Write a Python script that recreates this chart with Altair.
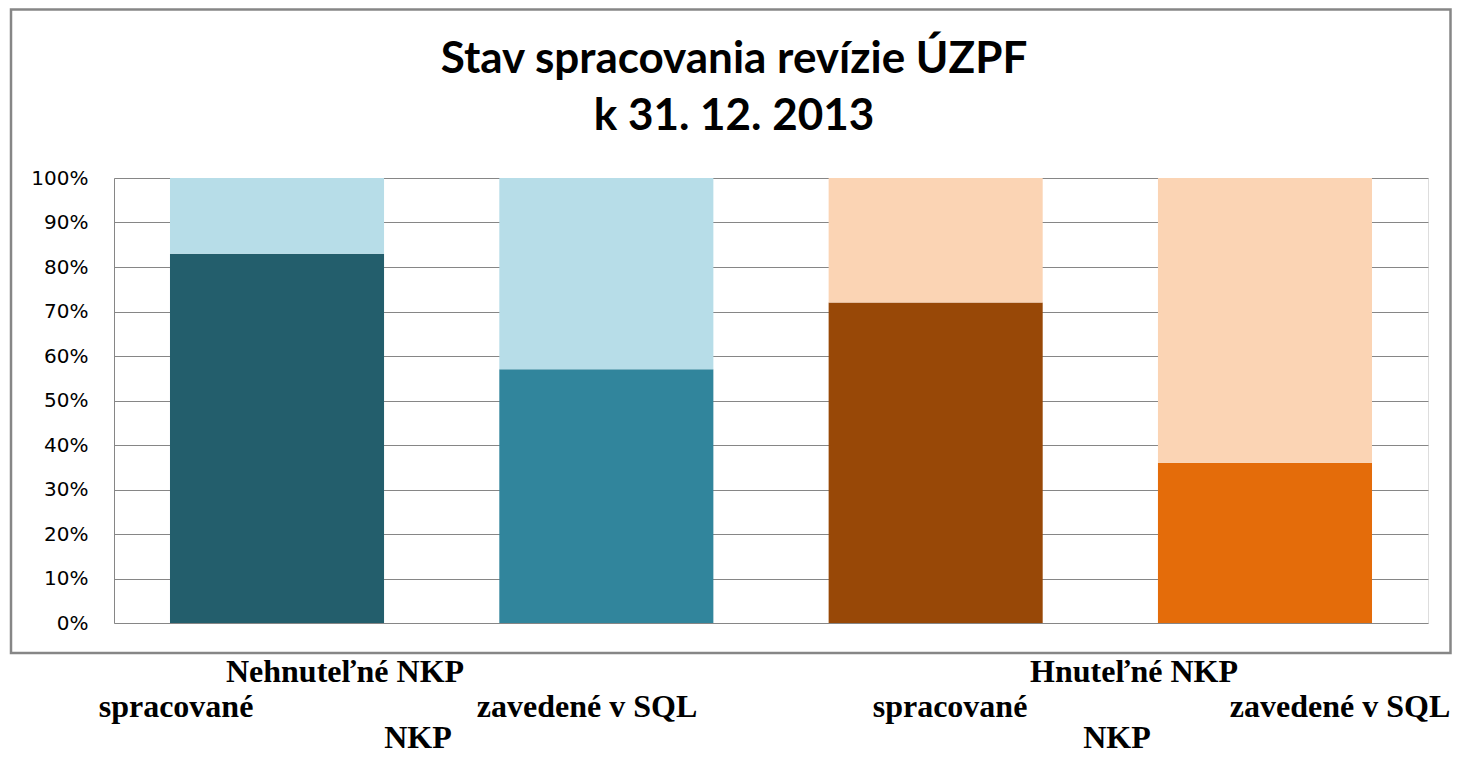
import altair as alt
import pandas as pd

# ---- data ----
categories = ["Nehnuteľné NKP spracované", "Nehnuteľné NKP zavedené v SQL",
              "Hnuteľné NKP spracované", "Hnuteľné NKP zavedené v SQL"]
done_share = [0.83, 0.57, 0.72, 0.36]
done_colors = ["#235E6C", "#31859C", "#984807", "#E46C0A"]
rest_colors = ["#B7DDE8", "#B7DDE8", "#FBD4B4", "#FBD4B4"]
title_lines = ["Stav spracovania revízie ÚZPF", "k 31. 12. 2013"]
y_ticks = [0, 0.1, 0.2, 0.3, 0.4, 0.5, 0.6, 0.7, 0.8, 0.9, 1.0]

rows = []
keys, colors = [], []
for i, (c, v) in enumerate(zip(categories, done_share)):
    rows.append({"cat": c, "key": f"{i}_done", "val": v, "ord": 0})
    rows.append({"cat": c, "key": f"{i}_rest", "val": round(1 - v, 4), "ord": 1})
    keys += [f"{i}_done", f"{i}_rest"]
    colors += [done_colors[i], rest_colors[i]]
df = pd.DataFrame(rows)

W, H = 1314, 445

xscale = alt.Scale(domain=categories, paddingInner=0.35, paddingOuter=0.17)

bars = alt.Chart(df).mark_bar(stroke=None).encode(
    x=alt.X("cat:N", scale=xscale, axis=None, sort=categories),
    y=alt.Y("val:Q", stack="zero",
            scale=alt.Scale(domain=[0, 1], nice=False),
            axis=alt.Axis(values=y_ticks, format=".0%", title=None, ticks=False,
                          labelPadding=26, labelFont="DejaVu Sans", labelFontSize=20,
                          labelColor="#000000", grid=True, gridColor="#868686",
                          gridWidth=1, domain=True, domainColor="#868686",
                          domainWidth=1)),
    color=alt.Color("key:N", scale=alt.Scale(domain=keys, range=colors), legend=None),
    order=alt.Order("ord:Q"),
)

one = pd.DataFrame({"k": [0]})

frame = alt.Chart(one).mark_rect(fill=None, stroke="#868686", strokeWidth=2.5).encode(
    x=alt.value(-103), x2=alt.value(1336.5), y=alt.value(-168.5), y2=alt.value(475)
)

def title_line(txt, yy):
    return alt.Chart(one).mark_text(
        font="Lato", fontSize=44, fontWeight="bold", color="#000000",
        align="center", baseline="alphabetic"
    ).encode(x=alt.value(620), y=alt.value(yy), text=alt.value(txt))

t1 = title_line(title_lines[0], 73 - 178)
t2 = title_line(title_lines[1], 130 - 178)

# category labels, wrapped as in the original
label_specs = [
    ("Nehnuteľné NKP", 231, 504),
    ("spracované", 62, 539),
    ("zavedené v SQL", 473, 539),
    ("NKP", 304, 570),
    ("Hnuteľné NKP", 1020, 504),
    ("spracované", 836, 539),
    ("zavedené v SQL", 1226, 539),
    ("NKP", 1003, 570),
]
labels = [
    alt.Chart(one).mark_text(
        font="Liberation Serif", fontSize=32, fontWeight="bold", color="#000000",
        align="center", baseline="alphabetic"
    ).encode(x=alt.value(px), y=alt.value(py), text=alt.value(t))
    for t, px, py in label_specs
]

chart = alt.layer(bars, frame, t1, t2, *labels).properties(
    width=W, height=H,
    padding={"left": 106, "top": 170, "right": 24, "bottom": 131},
    autosize=alt.AutoSizeParams(type="none"),
).configure_view(stroke=None).configure(background="#ffffff")

chart.save("out.html", embed_options={"renderer": "svg", "actions": False})
